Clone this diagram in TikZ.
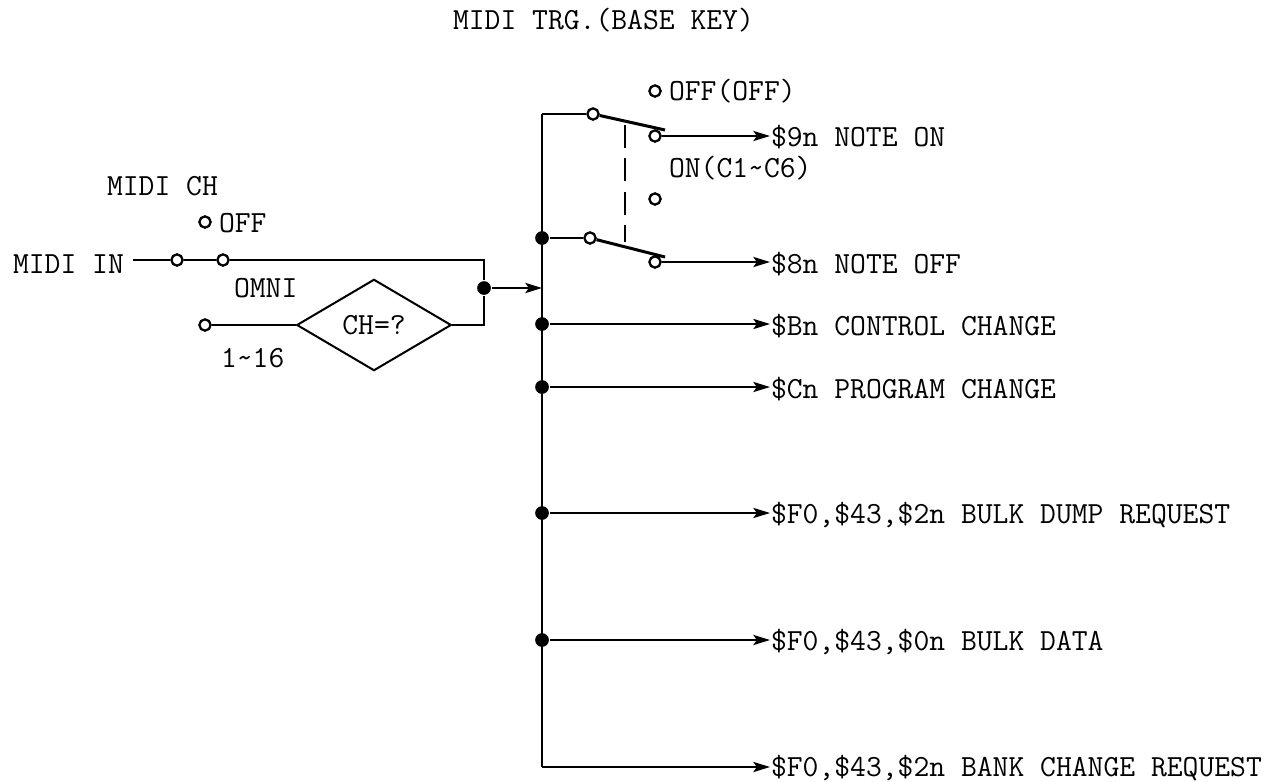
\documentclass[tikz,border=0pt]{standalone}
\usepackage{tikz}
\usetikzlibrary{arrows.meta,shapes.geometric}

\begin{document}
\begin{tikzpicture}[x=0.02cm, y=-0.02cm, line width=1.15pt,
    font=\fontsize{17.5}{20}\ttfamily,
    label/.style={inner sep=0pt, anchor=west},
    contact/.style={circle, draw, line width=1.3pt, fill=white, inner sep=0pt, minimum size=6.4pt},
    joint/.style={circle, fill=black, inner sep=0pt, minimum size=7.8pt},
    tip/.style={-{Stealth[length=9.5pt, width=5.8pt, inset=2pt]}},
    blade/.style={line width=1.7pt}]
  \useasboundingbox (0,0) rectangle (1274,781);

  \node[label] (title) at (452,20) {MIDI TRG.(BASE KEY)};

  % channel switch
  \node[label] (inlabel) at (12,264) {MIDI IN};
  \node[label] (chlabel) at (106,186) {MIDI CH};
  \node[label] (offlabel) at (218,223) {OFF};
  \node[label] (omnilabel) at (233,288) {OMNI};
  \node[label] (rangelabel) at (220,358) {1\textasciitilde16};
  \node[contact] (choff) at (205,222) {};
  \node[contact] (chpivot) at (177,260) {};
  \node[contact] (chomni) at (223,260) {};
  \node[contact] (chnum) at (205,325) {};
  \node[draw, diamond, aspect=1.7, inner sep=0pt, minimum width=88pt, minimum height=52pt] (chtest) at (374,325) {CH=?};
  \coordinate (instart) at (133,260);
  \coordinate (mergetop) at (484,260);
  \coordinate (mergelow) at (484,325);
  \node[joint] (merge) at (484,288) {};
  \coordinate (busin) at (542,288);

  \draw (instart) -- (chpivot);
  \draw[blade] (chpivot) -- (chomni);
  \draw (chomni) -- (mergetop) -- (merge);
  \draw (chnum) -- (chtest);
  \draw (chtest) -- (mergelow) -- (merge);
  \draw[tip] (merge) -- (busin);

  % bus
  \coordinate (bustop) at (542,114);
  \coordinate (buslow) at (542,767);
  \node[joint] (j8) at (542,238) {};
  \node[joint] (jb) at (542,324) {};
  \node[joint] (jc) at (542,387) {};
  \node[joint] (jdump) at (542,513) {};
  \node[joint] (jdata) at (542,640) {};
  \draw (bustop) -- (buslow);

  % trigger switches
  \node[contact] (on1) at (655,91) {};
  \node[contact] (p9) at (593,114) {};
  \node[contact] (o9) at (655,136) {};
  \node[contact] (on2) at (655,199) {};
  \node[contact] (p8) at (590,238) {};
  \node[contact] (o8) at (655,262) {};
  \coordinate (b9) at (665,130);
  \coordinate (b8) at (665,257);
  \coordinate (d9) at (625,125);
  \coordinate (d8) at (625,242);
  \node[label] (trgoff) at (668,91) {OFF(OFF)};
  \node[label] (trgon) at (668,168) {ON(C1\textasciitilde C6)};
  \draw (bustop) -- (p9);
  \draw (j8) -- (p8);
  \draw[blade] (p9) -- (b9);
  \draw[blade] (p8) -- (b8);
  \draw[dash pattern=on 13pt off 6pt] (d9) -- (d8);

  % outputs
  \node[label] (t9) at (770,137) {\$9n NOTE ON};
  \node[label] (t8) at (770,264) {\$8n NOTE OFF};
  \node[label] (tb) at (770,326) {\$Bn CONTROL CHANGE};
  \node[label] (tc) at (770,389) {\$Cn PROGRAM CHANGE};
  \node[label] (tdump) at (770,515) {\$F0,\$43,\$2n BULK DUMP REQUEST};
  \node[label] (tdata) at (770,642) {\$F0,\$43,\$0n BULK DATA};
  \node[label] (tbank) at (770,768) {\$F0,\$43,\$2n BANK CHANGE REQUEST};
  \draw[tip] (o9) -- (t9.west |- o9);
  \draw[tip] (o8) -- (t8.west |- o8);
  \draw[tip] (jb) -- (tb.west |- jb);
  \draw[tip] (jc) -- (tc.west |- jc);
  \draw[tip] (jdump) -- (tdump.west |- jdump);
  \draw[tip] (jdata) -- (tdata.west |- jdata);
  \draw[tip] (buslow) -- (tbank.west |- buslow);
\end{tikzpicture}
\end{document}
